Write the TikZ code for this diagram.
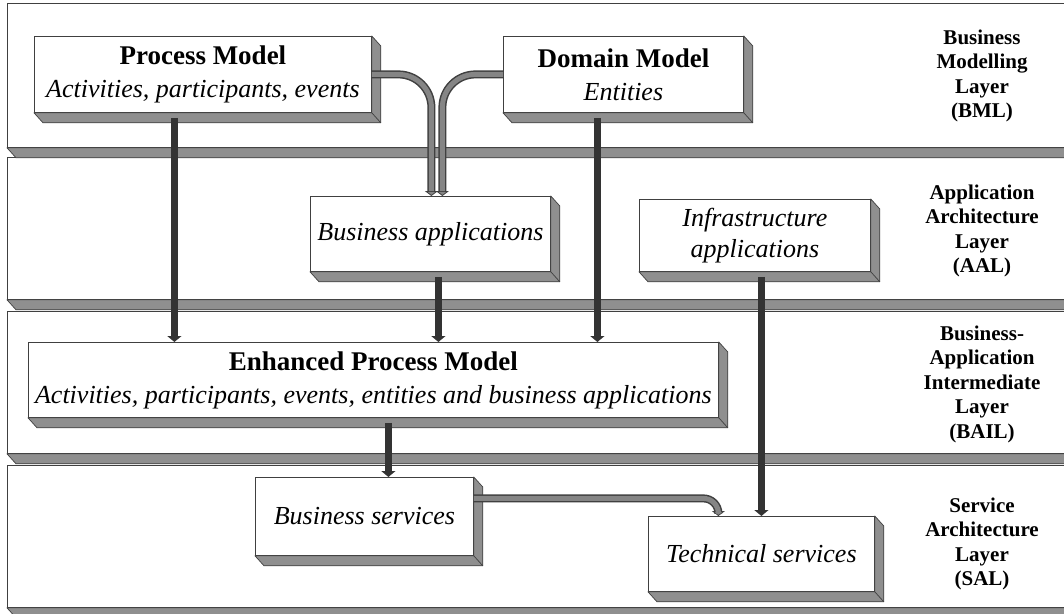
\documentclass[tikz,border=0pt]{standalone}
\usepackage{fontspec}
\setmainfont{Liberation Serif}
\usepackage{tikz}
\usetikzlibrary{arrows.meta}

\definecolor{facegray}{gray}{0.56}
\definecolor{edgegray}{gray}{0.25}
\definecolor{bargray}{gray}{0.2}
\definecolor{pipegray}{gray}{0.52}

\tikzset{
  layer/.style={draw=edgegray, fill=white, line width=0.8pt, anchor=north west,
    minimum width=1063pt, inner sep=0pt},
  box/.style={draw=edgegray, fill=white, line width=0.8pt, anchor=north west,
    inner sep=0pt, align=center, font=\fontsize{26}{33}\selectfont},
  lbl/.style={align=center, font=\fontsize{21}{24.5}\selectfont\bfseries},
  face/.style={fill=facegray, draw=edgegray, line width=0.7pt, line join=round},
  bar/.style={draw=bargray, line width=7pt, shorten <=5pt,
    -{Triangle[width=14pt, length=6pt]}},
  pipe/.style={draw=pipegray, line width=5pt, rounded corners=33pt, shorten >=5pt,
    preaction={draw=edgegray, line width=8pt, shorten >=0pt,
      -{Triangle[width=13pt, length=5pt, fill=pipegray, line width=0.8pt]}}}
}

% side and bottom faces of a slab
\newcommand{\extrude}[1]{%
  \filldraw[face] (#1.south west) -- ++(9,10) -- ([shift={(9,10)}]#1.south east)
    -- ([shift={(9,10)}]#1.north east) -- (#1.north east) -- (#1.south east) -- cycle;
  \draw[face] (#1.south east) -- ++(9,10);}

\begin{document}
\begin{tikzpicture}[x=1pt,y=-1pt]
  \useasboundingbox (0,0) rectangle (1064,613);

  % layers
  \node[layer, minimum height=144pt] (bml) at (7,3) {};
  \node[layer, minimum height=142pt] (aal) at (7,157) {};
  \node[layer, minimum height=142pt] (bail) at (7,311) {};
  \node[layer, minimum height=142pt] (sal) at (7,465) {};
  \foreach \n in {bml,aal,bail,sal} {\extrude{\n}}

  \node[lbl] (bmltxt) at (982,76) {Business\\Modelling\\Layer\\(BML)};
  \node[lbl] (aaltxt) at (982,231) {Application\\Architecture\\Layer\\(AAL)};
  \node[lbl] (bailtxt) at (982,384) {Business-\\Application\\Intermediate\\Layer\\(BAIL)};
  \node[lbl] (saltxt) at (982,544) {Service\\Architecture\\Layer\\(SAL)};

  % models, applications, services
  \node[box, minimum width=337pt, minimum height=76pt] (pm) at (34,36)
    {{\fontsize{27}{33}\selectfont\bfseries Process Model}\\\textit{Activities, participants, events}};
  \node[box, minimum width=240pt, minimum height=76pt] (dm) at (503,36)
    {{\fontsize{27}{33}\selectfont\bfseries Domain Model}\\\textit{Entities}};
  \node[box, minimum width=240pt, minimum height=75pt] (ba) at (310,196)
    {\textit{Business applications}};
  \node[box, minimum width=231pt, minimum height=72pt,
    font=\fontsize{26}{31}\selectfont] (ia) at (639,199)
    {\textit{Infrastructure}\\\textit{applications}};
  \node[box, minimum width=690pt, minimum height=75pt] (epm) at (28,342)
    {{\fontsize{27}{33}\selectfont\bfseries Enhanced Process Model}\\\textit{Activities, participants, events, entities and business applications}};
  \node[box, minimum width=218pt, minimum height=78pt] (bs) at (255,477)
    {\textit{Business services}};
  \node[box, minimum width=226pt, minimum height=75pt] (ts) at (648,516)
    {\textit{Technical services}};
  \foreach \n in {pm,dm,ba,ia,epm,bs,ts} {\extrude{\n}}

  % dependencies
  \draw[bar] ([xshift=-28.5pt]pm.south) -- ([xshift=-28.5pt]pm.south |- epm.north);
  \draw[bar] ([xshift=-26pt]dm.south) -- ([xshift=-26pt]dm.south |- epm.north);
  \draw[bar] ([xshift=8pt]ba.south) -- ([xshift=8pt]ba.south |- epm.north);
  \draw[bar] ([xshift=15pt]epm.south) -- ([xshift=15pt]epm.south |- bs.north);
  \draw[bar] ([xshift=6.5pt]ia.south) -- ([xshift=6.5pt]ia.south |- ts.north);

  \draw[pipe] (pm.east) -| ([xshift=1pt]ba.north);
  \draw[pipe] (dm.west) -| ([xshift=12pt]ba.north);
  \draw[pipe, rounded corners=15pt] ([yshift=18pt]bs.east) -| ([xshift=-43pt]ts.north);
\end{tikzpicture}
\end{document}
